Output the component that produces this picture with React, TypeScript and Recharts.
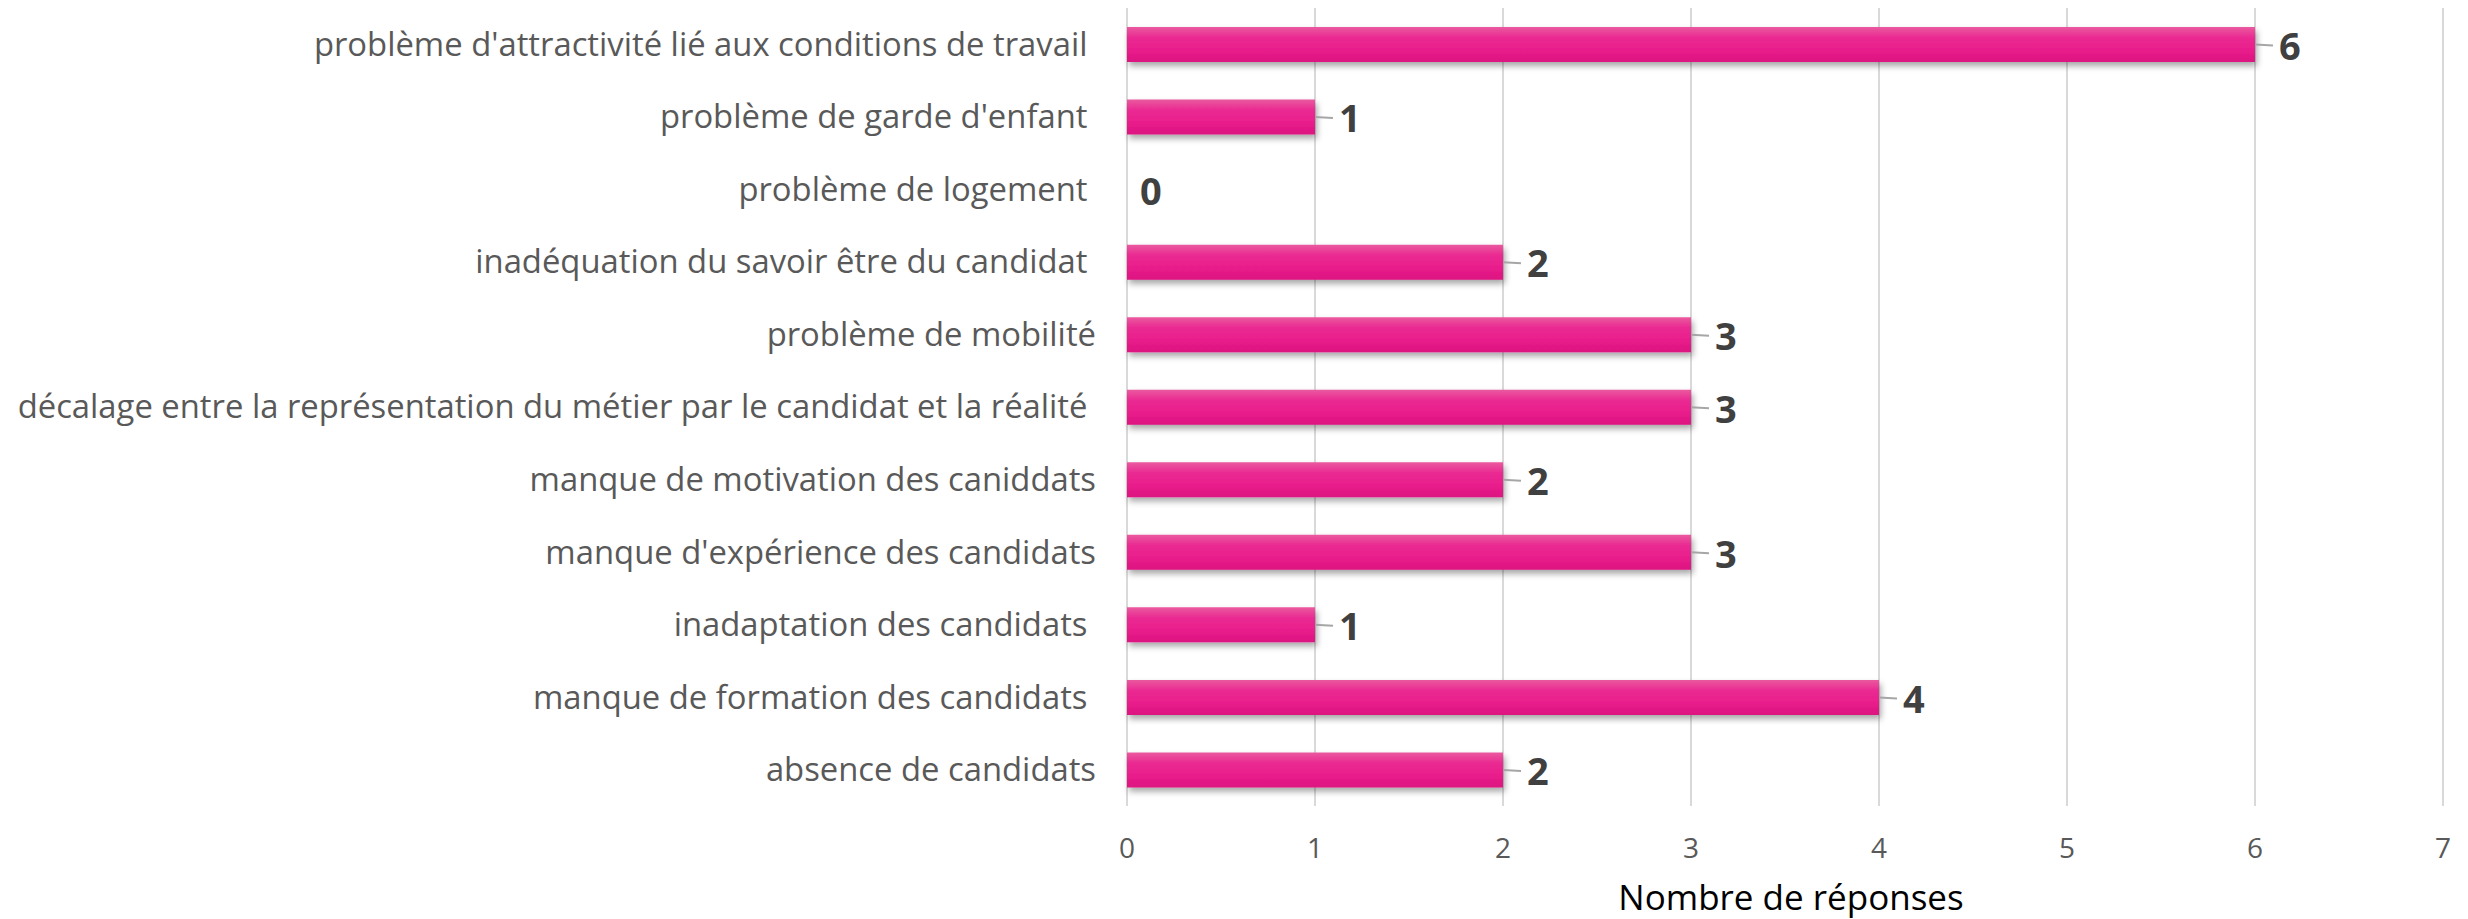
import React from "react";
import { BarChart, Bar, XAxis, YAxis, CartesianGrid, LabelList, Label } from "recharts";

const categories = [
  "problème d'attractivité lié aux conditions de travail ",
  "problème de garde d'enfant ",
  "problème de logement ",
  "inadéquation du savoir être du candidat ",
  "problème de mobilité",
  "décalage entre la représentation du métier par le candidat et la réalité ",
  "manque de motivation des caniddats",
  "manque d'expérience des candidats",
  "inadaptation des candidats ",
  "manque de formation des candidats ",
  "absence de candidats",
];
const responses = [6, 1, 0, 2, 3, 3, 2, 3, 1, 4, 2];
const xTicks = [0, 1, 2, 3, 4, 5, 6, 7];
const xTitle = "Nombre de réponses";

const data = categories.map((name, i) => ({ name, value: responses[i] }));

const FONT = "'Open Sans', 'Noto Sans', sans-serif";

const valueText = (x: number, y: number, value: number) => (
  <text x={x} y={y} dy="0.35em" fill="#404040" fontSize={38} fontWeight="bold" fontFamily={FONT}>
    {value}
  </text>
);

const YTick = (props: any) => {
  const { x, y, payload } = props;
  const idx = categories.indexOf(payload.value);
  const v = idx >= 0 ? responses[idx] : null;
  return (
    <g>
      <text
        x={x - 31}
        y={y}
        dy="0.35em"
        textAnchor="end"
        fill="#595959"
        fontSize={32.8}
        fontFamily={FONT}
        style={{ whiteSpace: "pre" }}
      >
        {payload.value}
      </text>
      {v === 0 ? valueText(x + 13, y + 2, v) : null}
    </g>
  );
};

const XTick = (props: any) => {
  const { x, y, payload } = props;
  return (
    <text x={x} y={y + 52} textAnchor="middle" fill="#595959" fontSize={28} fontFamily={FONT}>
      {payload.value}
    </text>
  );
};

const ValueLabel = (props: any) => {
  const { x, y, width, height, value } = props;
  if (!value) return null;
  const cy = y + height / 2;
  const end = x + width;
  return (
    <g>
      <line x1={end} y1={cy} x2={end + 18} y2={cy + 1} stroke="#A6A6A6" strokeWidth={2} />
      {valueText(end + 24, cy + 2, value)}
    </g>
  );
};

const TitleLabel = (props: any) => {
  const vb = props.viewBox || {};
  return (
    <text
      x={vb.x + vb.width / 2 + 6}
      y={vb.y + 104}
      textAnchor="middle"
      fill="#000000"
      fontSize={35}
      fontFamily={FONT}
    >
      {xTitle}
    </text>
  );
};

export default function App() {
  return (
    <div style={{ position: "absolute", left: 0, top: 0, width: 2468, height: 919, background: "#fff" }}>
      <BarChart
        width={2468}
        height={919}
        data={data}
        layout="vertical"
        margin={{ top: 8, right: 25, bottom: 0, left: 0 }}
      >
        <defs>
          <linearGradient id="barGrad" x1="0" y1="0" x2="0" y2="1">
            <stop offset="0%" stopColor="#EA5A9F" />
            <stop offset="30%" stopColor="#EA2A92" />
            <stop offset="65%" stopColor="#E91E8C" />
            <stop offset="100%" stopColor="#DC1280" />
          </linearGradient>
          <filter id="barShadow" x="-5%" y="-30%" width="110%" height="180%">
            <feDropShadow dx="2" dy="4" stdDeviation="3" floodColor="#000" floodOpacity="0.35" />
          </filter>
        </defs>
        <CartesianGrid horizontal={false} stroke="#D9D9D9" strokeWidth={2} />
        <XAxis
          type="number"
          domain={[0, 7]}
          ticks={xTicks}
          interval={0}
          tickLine={false}
          axisLine={false}
          tickSize={0}
          tickMargin={0}
          height={113}
          tick={<XTick />}
        >
          <Label content={<TitleLabel />} />
        </XAxis>
        <YAxis
          type="category"
          dataKey="name"
          width={1127}
          tickLine={false}
          axisLine={false}
          tickSize={0}
          tickMargin={0}
          interval={0}
          tick={<YTick />}
        />
        <Bar
          dataKey="value"
          barSize={35}
          fill="url(#barGrad)"
          filter="url(#barShadow)"
          isAnimationActive={false}
        >
          <LabelList dataKey="value" content={<ValueLabel />} />
        </Bar>
      </BarChart>
    </div>
  );
}
